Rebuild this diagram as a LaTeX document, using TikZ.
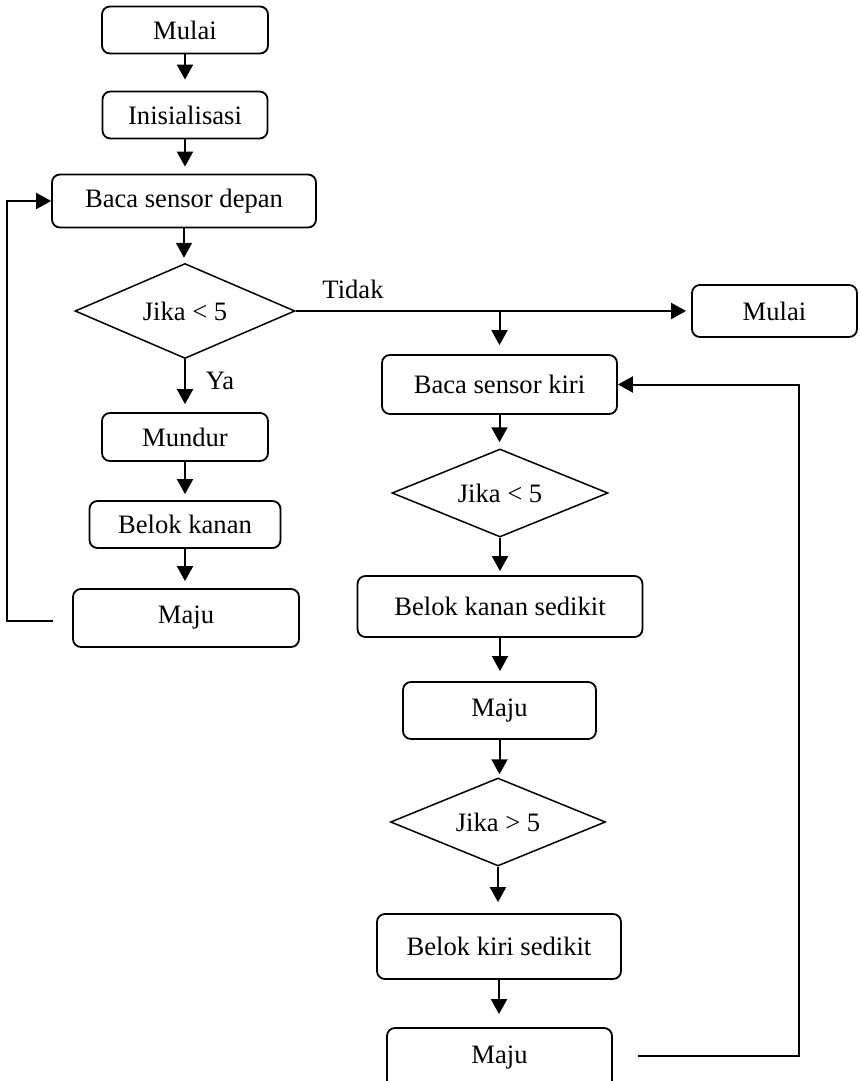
\documentclass[tikz,border=0pt]{standalone}
\usepackage{fontspec}
\setmainfont{Liberation Serif}
\usetikzlibrary{arrows.meta,shapes.geometric}
\begin{document}
\begin{tikzpicture}[x=0.5pt,y=-0.5pt,
  every node/.style={font=\fontsize{13.3}{16}\selectfont},
  box/.style={draw, rounded corners=4pt, line width=0.9pt, inner sep=0pt, align=center},
  dec/.style={draw, diamond, aspect=2.3, line width=0.75pt, inner sep=0pt},
  arr/.style={line width=1pt, -{Triangle[length=7.5pt,width=8pt]}},
  ln/.style={line width=1pt}]
\useasboundingbox (0,0) rectangle (861,1081);
% left column
\node[box, minimum width=83pt, minimum height=23.5pt] (start) at (185,30) {Mulai};
\node[box, minimum width=82.5pt, minimum height=23.5pt] (init) at (185,115) {Inisialisasi};
\node[box, minimum width=132pt, minimum height=26.5pt] (bsd) at (184,201) {Baca sensor depan};
\node[dec, minimum width=110pt, minimum height=47.5pt] (d1) at (185,311) {Jika < 5};
\node[box, minimum width=83pt, minimum height=24pt] (mundur) at (185,437) {Mundur};
\node[box, minimum width=95.5pt, minimum height=23.5pt] (bkanan) at (185,524.5) {Belok kanan};
\node[box, minimum width=113pt, minimum height=29pt] (maju1) at (186,618) {Maju};
% right
\node[box, minimum width=82.5pt, minimum height=26pt] (mulai2) at (774.5,311) {Mulai};
\node[box, minimum width=117.5pt, minimum height=29.5pt] (bkiri) at (499.5,384.5) {Baca sensor kiri};
\node[dec, minimum width=108pt, minimum height=44pt] (d2) at (500,493) {Jika < 5};
\node[box, minimum width=142.5pt, minimum height=30.5pt] (bks) at (500,606.5) {Belok kanan sedikit};
\node[box, minimum width=96.5pt, minimum height=28.5pt] (maju2) at (499.5,710.5) {Maju};
\node[dec, minimum width=107.5pt, minimum height=44pt] (d3) at (498,822) {Jika > 5};
\node[box, minimum width=122pt, minimum height=32.5pt] (bkis) at (499,946.5) {Belok kiri sedikit};
\node[box, minimum width=112.5pt, minimum height=30pt] (maju3) at (499.5,1058) {Maju};
% labels
\node (tidak) at (353,289) {Tidak};
\node (ya) at (220,381) {Ya};
% left arrows
\draw[arr, shorten >=5.5pt] (start.south) -- (start.south |- init.north);
\draw[arr, shorten >=3.5pt] (init.south) -- (init.south |- bsd.north);
\draw[arr, shorten >=2.5pt] (bsd.south) -- (bsd.south |- d1.north);
\draw[arr, shorten >=4pt] (d1.south) -- (d1.south |- mundur.north);
\draw[arr, shorten >=3pt] (mundur.south) -- (mundur.south |- bkanan.north);
\draw[arr, shorten >=3.5pt] (bkanan.south) -- (bkanan.south |- maju1.north);
% Tidak branch
\coordinate (br) at (bkiri.north |- d1.east);
\draw[arr, shorten >=2.5pt] (d1.east) -- (d1.east -| mulai2.west);
\draw[arr, shorten >=4.5pt] (br) -- (bkiri.north);
% right arrows
\draw[arr, shorten >=3pt] (bkiri.south) -- (bkiri.south |- d2.north);
\draw[arr, shorten >=2pt] (d2.south) -- (d2.south |- bks.north);
\draw[arr, shorten >=5pt] (bks.south) -- (bks.south |- maju2.north);
\draw[arr, shorten >=1.5pt] (maju2.south) -- (maju2.south |- d3.north);
\draw[arr, shorten >=5.5pt] (d3.south) -- (d3.south |- bkis.north);
\draw[arr, shorten >=6.5pt] (bkis.south) -- (bkis.south |- maju3.north);
% feedback loops
\coordinate (lf) at (53,621);
\coordinate (lc) at (7,0);
\draw[arr] (lf) -- (lf -| lc) |- (bsd.west);
\coordinate (rf) at (638,1056);
\coordinate (rc) at (799,0);
\draw[arr] (rf) -- (rf -| rc) |- (bkiri.east);
\end{tikzpicture}
\end{document}
